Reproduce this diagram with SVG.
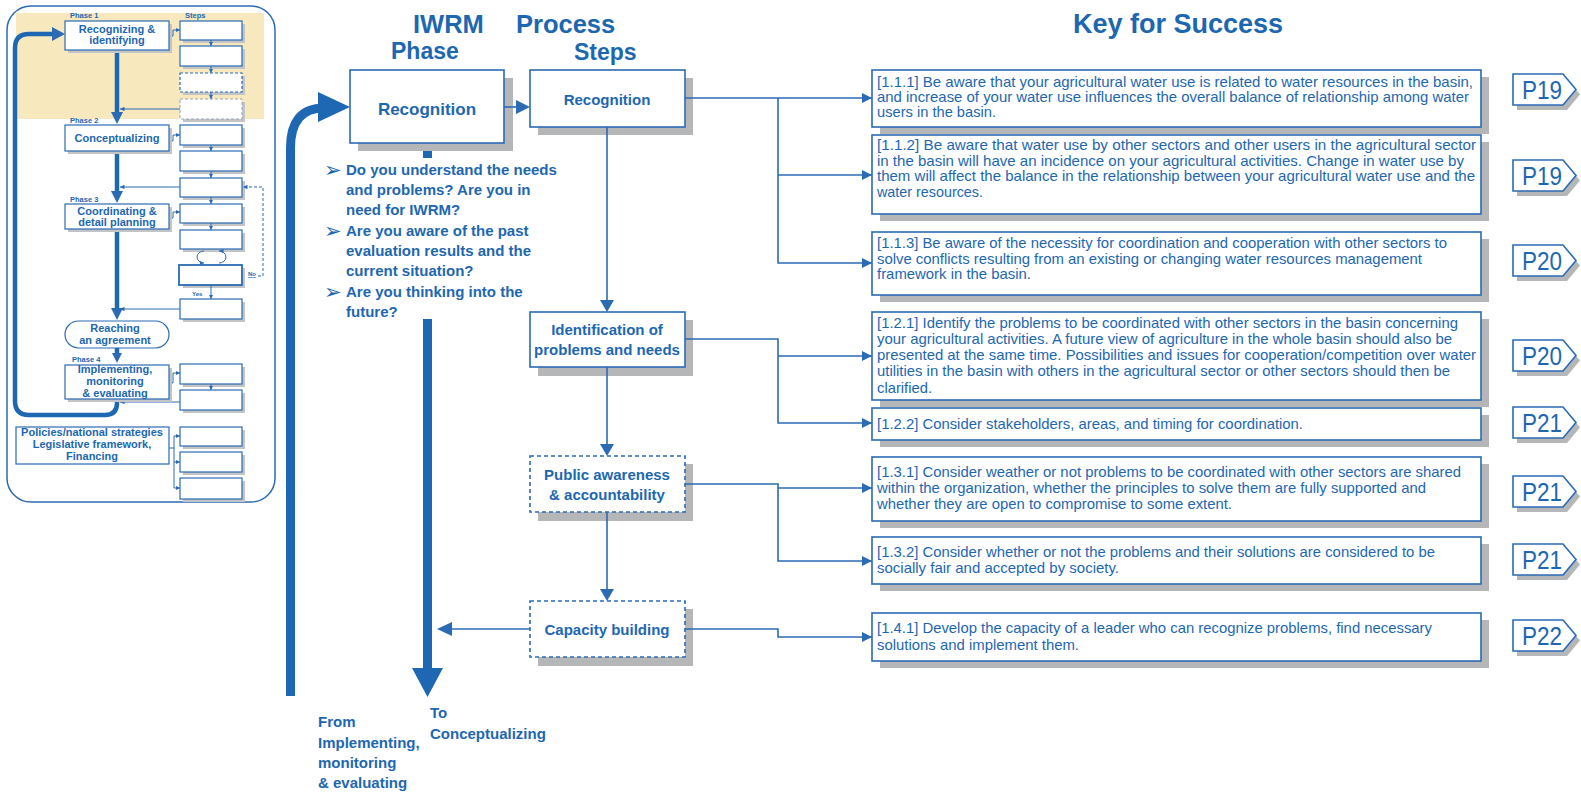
<svg xmlns="http://www.w3.org/2000/svg" width="1581" height="795" viewBox="0 0 1581 795">
<defs>
<style>
text{font-family:"Liberation Sans",Arial,Helvetica,sans-serif;fill:#1D67B1}
.b{font-weight:bold}
.m{text-anchor:middle}
.bx{fill:#fff;stroke:#2B6BB4;stroke-width:1.6}
.dsh{stroke-dasharray:4 3}
.sh{fill:#B4B6B8}
.ln{fill:none;stroke:#2B6BB4;stroke-width:1.6}
.fl{fill:#2B6BB4}
.mb{fill:#fff;stroke:#2B6BB4;stroke-width:1.2}
.msh{fill:#C2C4C6}
.ml{fill:none;stroke:#2B6BB4;stroke-width:1}
.thick{fill:none;stroke:#1E68B3;stroke-width:4.5}
.kt{font-size:15px}
.pt{font-size:25px}
.ph{font-size:7.5px;font-weight:bold}
.mt{font-size:11px;font-weight:bold;text-anchor:middle}
.qt{font-size:15px;font-weight:bold}
.bul{font-family:"DejaVu Sans",sans-serif;font-size:21px}
</style>
<marker id="ak" viewBox="0 0 10 10" refX="10" refY="5" markerWidth="10" markerHeight="10" markerUnits="userSpaceOnUse" orient="auto"><path d="M0,0 L10,5 L0,10 z" fill="#2B6BB4"/></marker>
<marker id="as" viewBox="0 0 10 10" refX="10" refY="5" markerWidth="4.5" markerHeight="4.5" markerUnits="userSpaceOnUse" orient="auto"><path d="M0,0 L10,5 L0,10 z" fill="#2B6BB4"/></marker>
</defs>
<rect width="1581" height="795" fill="#fff"/>

<g id="mini-overview">
<rect x="7" y="6" width="268" height="496" rx="24" fill="#fff" stroke="#2B6BB4" stroke-width="1.5"/>
<rect x="16" y="13" width="248" height="106" fill="#F7E8BD"/>
<text x="70" y="18" class="ph">Phase  1</text>
<text x="185" y="18" class="ph">Steps</text>
<text x="70" y="123" class="ph">Phase  2</text>
<text x="70" y="202" class="ph">Phase  3</text>
<text x="72" y="362" class="ph">Phase 4</text>

<g>
<rect x="183" y="24" width="62" height="19" class="msh"/><rect x="180" y="21" width="62" height="19" class="mb"/>
<rect x="183" y="49" width="62" height="20" class="msh"/><rect x="180" y="46" width="62" height="20" class="mb"/>
<rect x="183" y="76" width="62" height="19" class="msh"/><rect x="180" y="73" width="62" height="19" class="mb" stroke-dasharray="3 2"/>
<rect x="183" y="102" width="62" height="20" class="msh"/><rect x="180" y="99" width="62" height="20" fill="#fff" stroke="#9AA6B4" stroke-width="1" stroke-dasharray="3 2"/>
<rect x="183" y="128" width="62" height="20" class="msh"/><rect x="180" y="125" width="62" height="20" class="mb"/>
<rect x="183" y="154" width="62" height="20" class="msh"/><rect x="180" y="151" width="62" height="20" class="mb"/>
<rect x="183" y="181" width="62" height="19" class="msh"/><rect x="180" y="178" width="62" height="19" class="mb"/>
<rect x="183" y="207" width="62" height="19" class="msh"/><rect x="180" y="204" width="62" height="19" class="mb"/>
<rect x="183" y="233" width="62" height="19" class="msh"/><rect x="180" y="230" width="62" height="19" class="mb"/>
<rect x="183" y="268" width="62" height="20" class="msh"/><rect x="179" y="265" width="63" height="20" fill="#fff" stroke="#2B6BB4" stroke-width="1.8"/>
<rect x="183" y="302" width="62" height="20" class="msh"/><rect x="180" y="299" width="62" height="20" class="mb"/>
<rect x="183" y="367" width="62" height="20" class="msh"/><rect x="180" y="364" width="62" height="20" class="mb"/>
<rect x="183" y="393" width="62" height="20" class="msh"/><rect x="180" y="390" width="62" height="20" class="mb"/>
<rect x="183" y="430" width="62" height="19" class="msh"/><rect x="180" y="427" width="62" height="19" class="mb"/>
<rect x="183" y="455" width="62" height="20" class="msh"/><rect x="180" y="452" width="62" height="20" class="mb"/>
<rect x="183" y="481" width="62" height="21" class="msh"/><rect x="180" y="478" width="62" height="21" class="mb"/>
</g>

<g>
<path d="M211,40 V46" class="ml" marker-end="url(#as)"/>
<path d="M211,66 V73" class="ml" marker-end="url(#as)"/>
<path d="M211,92 V99" class="ml" marker-end="url(#as)"/>
<path d="M211,145 V151" class="ml" marker-end="url(#as)"/>
<path d="M211,171 V178" class="ml" marker-end="url(#as)"/>
<path d="M211,197 V204" class="ml" marker-end="url(#as)"/>
<path d="M211,223 V230" class="ml" marker-end="url(#as)"/>
<path d="M211,285 V299" class="ml" marker-end="url(#as)"/>
<path d="M211,384 V390" class="ml" marker-end="url(#as)"/>
<path d="M169,36 H173 V30 H180" class="ml" marker-end="url(#as)"/>
<path d="M169,141 H173 V135 H180" class="ml" marker-end="url(#as)"/>
<path d="M169,218 H173 V212 H180" class="ml" marker-end="url(#as)"/>
<path d="M169,383 H173 V373 H180" class="ml" marker-end="url(#as)"/>
<path d="M180,109 H120" class="ml" marker-end="url(#as)"/>
<path d="M180,187 H120" class="ml" marker-end="url(#as)"/>
<path d="M180,309 H120" class="ml" marker-end="url(#as)"/>
<path d="M180,402 H120" class="ml" marker-end="url(#as)"/>
<path d="M258,276 H263 V187 H243" class="ml" stroke-dasharray="3 2" marker-end="url(#as)"/>
<path d="M204,251 A7,6 0 0 0 204,263" class="ml" stroke-width="1.5" marker-end="url(#as)"/>
<path d="M219,263 A7,6 0 0 0 219,251" class="ml" stroke-width="1.5" marker-end="url(#as)"/>
<path d="M169,448 H174 M174,436 V488" class="ml"/>
<path d="M174,436 H180" class="ml" marker-end="url(#as)"/>
<path d="M174,462 H180" class="ml" marker-end="url(#as)"/>
<path d="M174,488 H180" class="ml" marker-end="url(#as)"/>
<text x="248" y="276" font-size="6" font-weight="bold" text-decoration="underline">No</text>
<text x="192" y="296" font-size="6" font-weight="bold">Yes</text>
</g>

<path d="M117,50 V114" class="thick" stroke-width="4"/>
<polygon points="111,112 123,112 117,124" class="fl"/>
<path d="M117,151 V193" class="thick" stroke-width="4"/>
<polygon points="111,191 123,191 117,203" class="fl"/>
<path d="M117,229 V310" class="thick" stroke-width="4"/>
<polygon points="111,308 123,308 117,320" class="fl"/>
<path d="M117,348 V355" class="thick" stroke-width="3"/>
<polygon points="112,353 122,353 117,363" class="fl"/>
<path d="M117,399 V403 Q117,415 105,415 H29 Q15,415 15,401 V48 Q15,34 29,34 H54" class="thick"/>
<polygon points="52,27 65,34 52,41" class="fl"/>

<g id="mini-phase1">
<rect x="68" y="24" width="104" height="29" class="msh"/>
<rect x="65" y="21" width="104" height="29" class="mb"/>
<text x="117" y="33" class="mt">Recognizing &amp;</text>
<text x="117" y="44" class="mt">identifying</text>
</g>
<g id="mini-phase2">
<rect x="68" y="128" width="104" height="26" class="msh"/>
<rect x="65" y="125" width="104" height="26" class="mb"/>
<text x="117" y="142" class="mt">Conceptualizing</text>
</g>
<g id="mini-phase3">
<rect x="68" y="207" width="104" height="25" class="msh"/>
<rect x="65" y="204" width="104" height="25" class="mb"/>
<text x="117" y="215" class="mt">Coordinating &amp;</text>
<text x="117" y="226" class="mt">detail planning</text>
</g>
<g id="mini-agreement">
<rect x="65" y="321" width="104" height="27" rx="13.5" class="mb"/>
<text x="115" y="332" class="mt">Reaching</text>
<text x="115" y="344" class="mt">an agreement</text>
</g>
<g id="mini-phase4">
<rect x="68" y="368" width="104" height="34" class="msh"/>
<rect x="65" y="365" width="104" height="34" class="mb"/>
<text x="115" y="373" class="mt">Implementing,</text>
<text x="115" y="385" class="mt">monitoring</text>
<text x="115" y="397" class="mt">&amp; evaluating</text>
</g>
<g id="mini-policies">
<rect x="16" y="427" width="153" height="37" class="mb"/>
<text x="92" y="436" class="mt">Policies/national strategies</text>
<text x="92" y="448" class="mt">Legislative framework,</text>
<text x="92" y="460" class="mt">Financing</text>
</g>
</g>

<g id="headers">
<text x="413" y="33" class="b" font-size="25.5">IWRM</text>
<text x="391" y="59" class="b" font-size="23">Phase</text>
<text x="516" y="33" class="b" font-size="25.5">Process</text>
<text x="574" y="60" class="b" font-size="23">Steps</text>
<text x="1073" y="33" class="b" font-size="27">Key for Success</text>
</g>

<g id="phase-flow">
<path d="M290.5,696 V148 Q290.5,108 324,108" fill="none" stroke="#1E68B3" stroke-width="9"/>
<polygon points="318,92 350,107 318,122" fill="#1E68B3"/>
<rect x="423" y="143" width="9" height="15" fill="#1E68B3"/>
<rect x="423" y="319" width="9" height="351" fill="#1E68B3"/>
<polygon points="412,668 443,668 427.5,697" fill="#1E68B3"/>
</g>

<g id="phase-recognition">
<rect x="358" y="78" width="155" height="73" class="sh"/>
<rect x="350" y="70" width="154" height="73" class="bx"/>
<text x="427" y="115" class="b m" font-size="17">Recognition</text>
</g>

<g id="questions">
<text x="324" y="177" class="bul">➢</text>
<text x="324" y="238" class="bul">➢</text>
<text x="324" y="299" class="bul">➢</text>
<text x="346" y="175" class="qt">Do you understand the needs</text>
<text x="346" y="195" class="qt">and problems? Are you in</text>
<text x="346" y="215" class="qt">need for IWRM?</text>
<text x="346" y="236" class="qt">Are you aware of the past</text>
<text x="346" y="256" class="qt">evaluation results and the</text>
<text x="346" y="276" class="qt">current situation?</text>
<text x="346" y="297" class="qt">Are you thinking into the</text>
<text x="346" y="317" class="qt">future?</text>
</g>

<g id="from-to">
<text x="318" y="727" class="qt">From</text>
<text x="318" y="748" class="qt">Implementing,</text>
<text x="318" y="768" class="qt">monitoring</text>
<text x="318" y="788" class="qt">&amp; evaluating</text>
<text x="430" y="718" class="qt">To</text>
<text x="430" y="739" class="qt">Conceptualizing</text>
</g>

<g id="step-recognition">
<rect x="538" y="78" width="155" height="57" class="sh"/>
<rect x="530" y="70" width="155" height="57" class="bx"/>
<text x="607" y="105" class="b m" font-size="15">Recognition</text>
</g>
<g id="step-identification">
<rect x="538" y="320" width="155" height="56" class="sh"/>
<rect x="530" y="312" width="155" height="55" class="bx"/>
<text x="607" y="335" class="b m" font-size="15">Identification of</text>
<text x="607" y="355" class="b m" font-size="15">problems and needs</text>
</g>
<g id="step-public">
<rect x="538" y="464" width="155" height="57" class="sh"/>
<rect x="530" y="456" width="155" height="56" class="bx dsh"/>
<text x="607" y="480" class="b m" font-size="15">Public awareness</text>
<text x="607" y="500" class="b m" font-size="15">&amp; accountability</text>
</g>
<g id="step-capacity">
<rect x="538" y="609" width="155" height="57" class="sh"/>
<rect x="530" y="601" width="155" height="56" class="bx dsh"/>
<text x="607" y="635" class="b m" font-size="15">Capacity building</text>
</g>

<g id="connectors">
<path d="M504,107 H518" class="ln" stroke-width="2"/>
<polygon points="516,100 530,107 516,114" class="fl"/>
<path d="M607,127 V301" class="ln" stroke-width="2"/>
<polygon points="600,300 614,300 607,312" class="fl"/>
<path d="M607,367 V445" class="ln" stroke-width="2"/>
<polygon points="600,444 614,444 607,456" class="fl"/>
<path d="M607,512 V590" class="ln" stroke-width="2"/>
<polygon points="600,589 614,589 607,601" class="fl"/>
<path d="M530,629 H450" class="ln" stroke-width="2"/>
<polygon points="452,622 437,629 452,636" class="fl"/>

<path d="M685,98 H872" class="ln" marker-end="url(#ak)"/>
<path d="M778,98 V263 H872" class="ln" marker-end="url(#ak)"/>
<path d="M778,175 H872" class="ln" marker-end="url(#ak)"/>
<path d="M685,339 H778 V423 H872" class="ln" marker-end="url(#ak)"/>
<path d="M778,356 H872" class="ln" marker-end="url(#ak)"/>
<path d="M685,484 H778 V561 H872" class="ln" marker-end="url(#ak)"/>
<path d="M778,488 H872" class="ln" marker-end="url(#ak)"/>
<path d="M685,629 H778 V637 H872" class="ln" marker-end="url(#ak)"/>
</g>

<g id="key-1-1-1">
<rect x="880" y="77" width="609" height="57" class="sh"/>
<rect x="872" y="70" width="609" height="57" class="bx"/>
<text x="877" y="87" class="kt" textLength="596" lengthAdjust="spacingAndGlyphs">[1.1.1] Be aware that your agricultural water use is related to water resources in the basin,</text>
<text x="877" y="102" class="kt" textLength="592" lengthAdjust="spacingAndGlyphs">and increase of your water use influences the overall balance of relationship among water</text>
<text x="877" y="117" class="kt" textLength="119" lengthAdjust="spacingAndGlyphs">users in the basin.</text>
</g>
<g id="key-1-1-2">
<rect x="880" y="142" width="609" height="79" class="sh"/>
<rect x="872" y="135" width="609" height="79" class="bx"/>
<text x="877" y="150" class="kt" textLength="599" lengthAdjust="spacingAndGlyphs">[1.1.2] Be aware that water use by other sectors and other users in the agricultural sector</text>
<text x="877" y="166" class="kt" textLength="587" lengthAdjust="spacingAndGlyphs">in the basin will have an incidence on your agricultural activities. Change in water use by</text>
<text x="877" y="181" class="kt" textLength="598" lengthAdjust="spacingAndGlyphs">them will affect the balance in the relationship between your agricultural water use  and the</text>
<text x="877" y="197" class="kt" textLength="106" lengthAdjust="spacingAndGlyphs">water resources.</text>
</g>
<g id="key-1-1-3">
<rect x="880" y="239" width="609" height="63" class="sh"/>
<rect x="872" y="232" width="609" height="63" class="bx"/>
<text x="877" y="248" class="kt" textLength="570" lengthAdjust="spacingAndGlyphs">[1.1.3] Be aware of the necessity for coordination and cooperation with other sectors to</text>
<text x="877" y="264" class="kt" textLength="545" lengthAdjust="spacingAndGlyphs">solve conflicts resulting from an existing or changing water resources management</text>
<text x="877" y="279" class="kt" textLength="154" lengthAdjust="spacingAndGlyphs">framework in the basin.</text>
</g>
<g id="key-1-2-1">
<rect x="880" y="319" width="609" height="88" class="sh"/>
<rect x="872" y="312" width="609" height="88" class="bx"/>
<text x="877" y="328" class="kt" textLength="581" lengthAdjust="spacingAndGlyphs">[1.2.1] Identify the problems to be coordinated with other sectors in the basin concerning</text>
<text x="877" y="344" class="kt" textLength="575" lengthAdjust="spacingAndGlyphs">your agricultural activities. A future view of agriculture in the whole basin should also be</text>
<text x="877" y="360" class="kt" textLength="599" lengthAdjust="spacingAndGlyphs">presented at the same time. Possibilities and issues for cooperation/competition over water</text>
<text x="877" y="376" class="kt" textLength="573" lengthAdjust="spacingAndGlyphs">utilities in the basin with others in the agricultural sector or other sectors should then be</text>
<text x="877" y="393" class="kt" textLength="55" lengthAdjust="spacingAndGlyphs">clarified.</text>
</g>
<g id="key-1-2-2">
<rect x="880" y="415" width="609" height="32" class="sh"/>
<rect x="872" y="408" width="609" height="32" class="bx"/>
<text x="877" y="429" class="kt" textLength="426" lengthAdjust="spacingAndGlyphs">[1.2.2] Consider stakeholders, areas, and timing for coordination.</text>
</g>
<g id="key-1-3-1">
<rect x="880" y="464" width="609" height="64" class="sh"/>
<rect x="872" y="457" width="609" height="64" class="bx"/>
<text x="877" y="477" class="kt" textLength="584" lengthAdjust="spacingAndGlyphs">[1.3.1] Consider weather or not problems to be coordinated with other sectors are shared</text>
<text x="877" y="493" class="kt" textLength="549" lengthAdjust="spacingAndGlyphs">within the organization, whether the principles to solve them are fully supported and</text>
<text x="877" y="509" class="kt" textLength="355" lengthAdjust="spacingAndGlyphs">whether they are open to compromise to some extent.</text>
</g>
<g id="key-1-3-2">
<rect x="880" y="544" width="609" height="47" class="sh"/>
<rect x="872" y="537" width="609" height="47" class="bx"/>
<text x="877" y="557" class="kt" textLength="558" lengthAdjust="spacingAndGlyphs">[1.3.2] Consider whether or not the problems and their solutions are considered to be</text>
<text x="877" y="573" class="kt" textLength="242" lengthAdjust="spacingAndGlyphs">socially fair and accepted by society.</text>
</g>
<g id="key-1-4-1">
<rect x="880" y="620" width="609" height="48" class="sh"/>
<rect x="872" y="613" width="609" height="48" class="bx"/>
<text x="877" y="633" class="kt" textLength="555" lengthAdjust="spacingAndGlyphs">[1.4.1] Develop the capacity of a leader who can recognize problems, find necessary</text>
<text x="877" y="650" class="kt" textLength="202" lengthAdjust="spacingAndGlyphs">solutions and implement them.</text>
</g>

<g id="page-p19a">
<polygon points="1517,79 1567,79 1580,94.5 1567,110 1517,110" class="sh"/>
<polygon points="1513,74 1563,74 1576,89.5 1563,105 1513,105" class="bx"/>
<text x="1522" y="99" class="pt" textLength="40" lengthAdjust="spacingAndGlyphs">P19</text>
</g>
<g id="page-p19b">
<polygon points="1517,165 1567,165 1580,180.5 1567,196 1517,196" class="sh"/>
<polygon points="1513,160 1563,160 1576,175.5 1563,191 1513,191" class="bx"/>
<text x="1522" y="185" class="pt" textLength="40" lengthAdjust="spacingAndGlyphs">P19</text>
</g>
<g id="page-p20a">
<polygon points="1517,250 1567,250 1580,265.5 1567,281 1517,281" class="sh"/>
<polygon points="1513,245 1563,245 1576,260.5 1563,276 1513,276" class="bx"/>
<text x="1522" y="270" class="pt" textLength="40" lengthAdjust="spacingAndGlyphs">P20</text>
</g>
<g id="page-p20b">
<polygon points="1517,345 1567,345 1580,360.5 1567,376 1517,376" class="sh"/>
<polygon points="1513,340 1563,340 1576,355.5 1563,371 1513,371" class="bx"/>
<text x="1522" y="365" class="pt" textLength="40" lengthAdjust="spacingAndGlyphs">P20</text>
</g>
<g id="page-p21a">
<polygon points="1517,412 1567,412 1580,427.5 1567,443 1517,443" class="sh"/>
<polygon points="1513,407 1563,407 1576,422.5 1563,438 1513,438" class="bx"/>
<text x="1522" y="432" class="pt" textLength="40" lengthAdjust="spacingAndGlyphs">P21</text>
</g>
<g id="page-p21b">
<polygon points="1517,481 1567,481 1580,496.5 1567,512 1517,512" class="sh"/>
<polygon points="1513,476 1563,476 1576,491.5 1563,507 1513,507" class="bx"/>
<text x="1522" y="501" class="pt" textLength="40" lengthAdjust="spacingAndGlyphs">P21</text>
</g>
<g id="page-p21c">
<polygon points="1517,549 1567,549 1580,564.5 1567,580 1517,580" class="sh"/>
<polygon points="1513,544 1563,544 1576,559.5 1563,575 1513,575" class="bx"/>
<text x="1522" y="569" class="pt" textLength="40" lengthAdjust="spacingAndGlyphs">P21</text>
</g>
<g id="page-p22">
<polygon points="1517,625 1567,625 1580,640.5 1567,656 1517,656" class="sh"/>
<polygon points="1513,620 1563,620 1576,635.5 1563,651 1513,651" class="bx"/>
<text x="1522" y="645" class="pt" textLength="40" lengthAdjust="spacingAndGlyphs">P22</text>
</g>
</svg>
